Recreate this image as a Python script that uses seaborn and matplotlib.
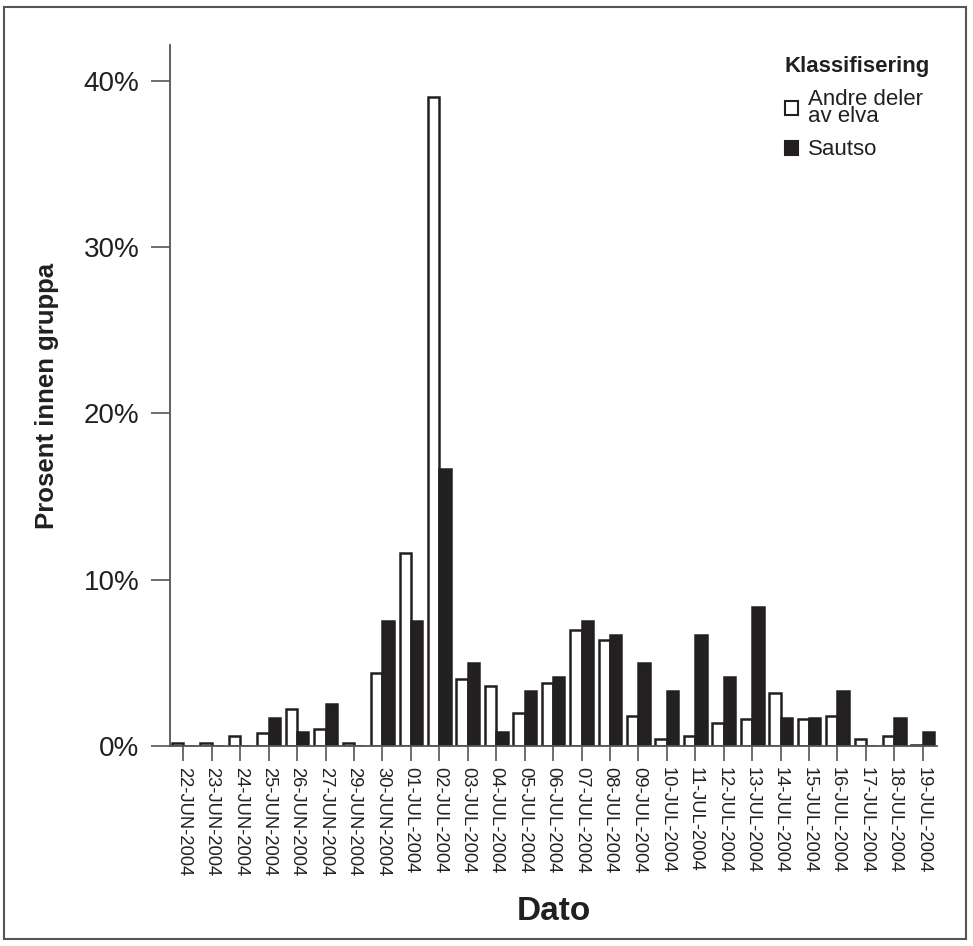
import matplotlib
matplotlib.use("Agg")
import matplotlib.pyplot as plt
from matplotlib.patches import Patch, Rectangle
from matplotlib.ticker import FuncFormatter
import seaborn as sns
import pandas as pd

dates = ["22-JUN-2004", "23-JUN-2004", "24-JUN-2004", "25-JUN-2004", "26-JUN-2004",
         "27-JUN-2004", "29-JUN-2004", "30-JUN-2004", "01-JUL-2004", "02-JUL-2004",
         "03-JUL-2004", "04-JUL-2004", "05-JUL-2004", "06-JUL-2004", "07-JUL-2004",
         "08-JUL-2004", "09-JUL-2004", "10-JUL-2004", "11-JUL-2004", "12-JUL-2004",
         "13-JUL-2004", "14-JUL-2004", "15-JUL-2004", "16-JUL-2004", "17-JUL-2004",
         "18-JUL-2004", "19-JUL-2004"]

andre_deler = [0.2, 0.2, 0.6, 0.8, 2.2, 1.0, 0.2, 4.4, 11.6, 39.0,
               4.0, 3.6, 2.0, 3.8, 7.0, 6.4, 1.8, 0.4, 0.6, 1.4,
               1.6, 3.2, 1.6, 1.8, 0.4, 0.6, 0.05]

sautso = [0.0, 0.0, 0.0, 1.67, 0.83, 2.5, 0.0, 7.5, 7.5, 16.67,
          5.0, 0.83, 3.33, 4.17, 7.5, 6.67, 5.0, 3.33, 6.67, 4.17,
          8.33, 1.67, 1.67, 3.33, 0.0, 1.67, 0.83]

groups = ["Andre deler\nav elva", "Sautso"]
yticks = [0, 10, 20, 30, 40]

ink = "#231f20"
axis_grey = "#555555"

df = pd.DataFrame({
    "Dato": dates * 2,
    "Prosent": andre_deler + sautso,
    "Klassifisering": [groups[0]] * len(dates) + [groups[1]] * len(dates),
})

sns.set_theme(style="white")
plt.rcParams["font.family"] = ["Liberation Sans", "DejaVu Sans"]

fig = plt.figure(figsize=(9.73, 9.46), dpi=100)
ax = fig.add_axes([170 / 973, 1 - 746 / 946, (937 - 170) / 973, (746 - 45) / 946])

sns.barplot(data=df, x="Dato", y="Prosent", hue="Klassifisering",
            order=dates, hue_order=groups,
            palette={groups[0]: "white", groups[1]: ink},
            width=0.8, dodge=True, errorbar=None, legend=False,
            edgecolor=ink, linewidth=1.8, ax=ax)

ax.set_xlim(-0.47, len(dates) - 0.5)
ax.set_ylim(0, 42.15)
ax.set_yticks(yticks)
ax.yaxis.set_major_formatter(FuncFormatter(lambda v, p: f"{v:.0f}%"))

for side in ["top", "right"]:
    ax.spines[side].set_visible(False)
for side in ["left", "bottom"]:
    ax.spines[side].set_color(axis_grey)
    ax.spines[side].set_linewidth(1.3)

ax.tick_params(axis="y", direction="out", length=14, width=1.2, color=axis_grey,
               pad=8, labelsize=20, labelcolor=ink, left=True)
ax.tick_params(axis="x", direction="out", length=11, width=1.2, color=axis_grey,
               pad=4, labelsize=13.2, labelcolor=ink, bottom=True)
for lab in ax.get_xticklabels():
    lab.set_rotation(270)
    lab.set_va("top")
    lab.set_ha("center")

ax.set_xlabel("Dato", fontsize=24, fontweight="bold", color=ink, va="center")
ax.xaxis.set_label_coords(0.5, (746 - 911) / 701)
ax.set_ylabel("Prosent innen gruppa", fontsize=18.5, fontweight="bold", color=ink,
              va="center")
ax.yaxis.set_label_coords((47 - 170) / 767, 0.5)

handles = [Patch(facecolor="white", edgecolor=ink, linewidth=1.5),
           Patch(facecolor=ink, edgecolor=ink, linewidth=1.5)]
leg = ax.legend(handles, groups, title="Klassifisering", loc="upper left",
                bbox_to_anchor=(785 / 973, 1 - 56 / 946), bbox_transform=fig.transFigure,
                frameon=False, fontsize=16, title_fontproperties={"weight": "bold", "size": 16},
                handlelength=0.6, handleheight=0.6, handletextpad=0.45,
                labelspacing=0.55, borderpad=0, borderaxespad=0)
leg._legend_box.align = "left"
leg.get_title().set_color(ink)
for t in leg.get_texts():
    t.set_color(ink)
    t.set_linespacing(0.75)

# outer frame around the whole graphic
fig.patches.append(Rectangle((4 / 973, 1 - 939 / 946), (966 - 4) / 973, (939 - 7) / 946,
                             transform=fig.transFigure, fill=False,
                             edgecolor=axis_grey, linewidth=1.5))

fig.savefig("out.png", dpi=100)
